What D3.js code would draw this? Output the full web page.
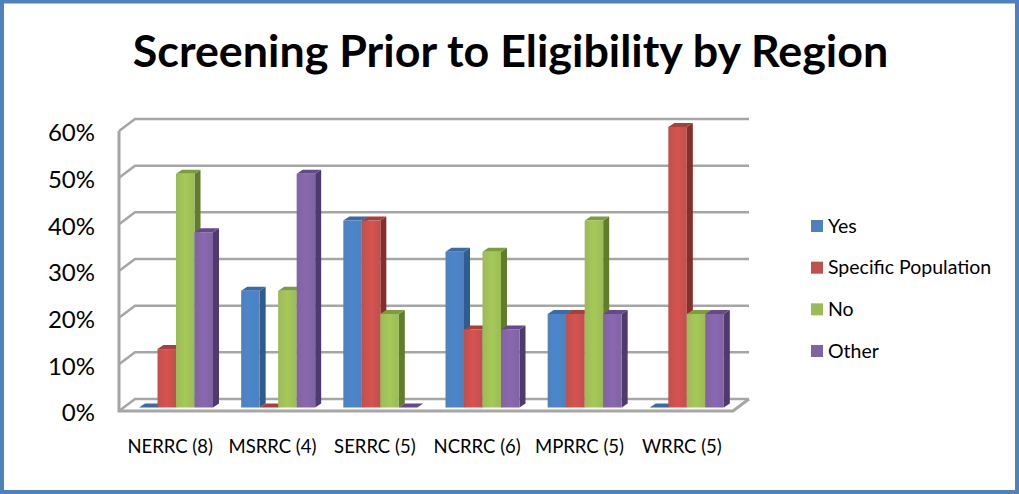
<!DOCTYPE html>
<html>
<head>
<meta charset="utf-8">
<script src="https://cdnjs.cloudflare.com/ajax/libs/d3/7.8.5/d3.min.js"></script>
<style>
html, body { margin: 0; padding: 0; background: #fff; }
svg { display: block; }
text { font-family: Lato, "Open Sans", sans-serif; fill: #000; }
</style>
</head>
<body>
<svg id="canvas" width="1019" height="494"></svg>
<script>
var regions = ['NERRC (8)', 'MSRRC (4)', 'SERRC (5)', 'NCRRC (6)', 'MPRRC (5)', 'WRRC (5)'];
var seriesNames = ['Yes', 'Specific Population', 'No', 'Other'];
var yesValues = [0, 0.25, 0.4, 0.333, 0.2, 0];
var specificValues = [0.125, 0, 0.4, 0.167, 0.2, 0.6];
var noValues = [0.5, 0.25, 0.2, 0.333, 0.4, 0.2];
var otherValues = [0.375, 0.5, 0, 0.167, 0.2, 0.2];
var yTicks = [0, 0.1, 0.2, 0.3, 0.4, 0.5, 0.6];
var seriesValues = [yesValues, specificValues, noValues, otherValues];

var faceColors = ['#4f81bd', '#c0504d', '#9bbb59', '#8064a2'];
var lightColors = ['#4a86cc', '#d65350', '#a6c957', '#8a68b0'];
var sideColors = ['#2f5c8f', '#852f2d', '#617d2c', '#4f3a70'];
var topColors = ['#3a6ba5', '#a83f3c', '#7d9c3c', '#65498a'];

var svg = d3.select('#canvas');
var GRID = '#a6a6a6';
var BAR_DX = 6, BAR_DY = 4;     // depth of one bar
var WALL_DX = 16, WALL_DY = 12; // depth of the floor

// border
svg.append('rect')
    .attr('x', 2).attr('y', 1.5)
    .attr('width', 1015).attr('height', 490.5)
    .attr('fill', '#fff')
    .attr('stroke', '#4f81bd')
    .attr('stroke-width', 4);

svg.append('text')
    .attr('x', 510.5)
    .attr('y', 67)
    .attr('text-anchor', 'middle')
    .attr('font-size', 44.8)
    .attr('font-weight', 700)
    .text('Screening Prior to Eligibility by Region');

var yWall = d3.scaleLinear().domain([0, 0.6]).range([411, 131]);
var yBar = d3.scaleLinear().domain([0, 0.6]).range([407.5, 127]);
var xWall = d3.scaleBand().domain(regions).range([119, 733]);
var xGroup = d3.scaleBand().domain(regions).range([125, 738]);
var xSeries = d3.scaleBand().domain(seriesNames).range([14, 88]);

var line = d3.line();
var wallLeft = xWall.range()[0], wallRight = xWall.range()[1];

// gridlines, each goes back from the wall then across
svg.append('g').selectAll('path')
    .data(yTicks)
    .enter().append('path')
    .attr('fill', 'none')
    .attr('stroke', GRID)
    .attr('stroke-width', 2.5)
    .attr('d', function(t) {
        return line([
            [wallLeft, yWall(t)],
            [wallLeft + WALL_DX, yWall(t) - WALL_DY],
            [wallRight + WALL_DX, yWall(t) - WALL_DY]
        ]);
    });

// wall and floor front
svg.append('path')
    .attr('fill', 'none')
    .attr('stroke', GRID)
    .attr('stroke-width', 3)
    .attr('d', line([
        [wallLeft, yWall(0.6)],
        [wallLeft, yWall(0)],
        [wallRight, yWall(0)],
        [wallRight + WALL_DX, yWall(0) - WALL_DY]
    ]));

// bars
var bars = [];
regions.forEach(function(region, i) {
    seriesNames.forEach(function(name, j) {
        bars.push({ region: region, name: name, series: j, value: seriesValues[j][i] });
    });
});

var defs = svg.append('defs');
faceColors.forEach(function(c, j) {
    var grad = defs.append('linearGradient').attr('id', 'face' + j);
    grad.append('stop').attr('offset', '0%').attr('stop-color', c);
    grad.append('stop').attr('offset', '50%').attr('stop-color', lightColors[j]);
    grad.append('stop').attr('offset', '100%').attr('stop-color', c);
});

var bar = svg.append('g').selectAll('g')
    .data(bars)
    .enter().append('g');

bar.append('path')
    .attr('fill', function(d) { return sideColors[d.series]; })
    .attr('d', function(d) {
        var x = xGroup(d.region) + xSeries(d.name) + xSeries.bandwidth();
        return line([
            [x, yBar(d.value)],
            [x + BAR_DX, yBar(d.value) - BAR_DY],
            [x + BAR_DX, yBar(0) - BAR_DY],
            [x, yBar(0)]
        ]) + 'Z';
    });

bar.append('path')
    .attr('fill', function(d) { return topColors[d.series]; })
    .attr('d', function(d) {
        var x = xGroup(d.region) + xSeries(d.name);
        var w = xSeries.bandwidth();
        return line([
            [x, yBar(d.value)],
            [x + BAR_DX, yBar(d.value) - BAR_DY],
            [x + w + BAR_DX, yBar(d.value) - BAR_DY],
            [x + w, yBar(d.value)]
        ]) + 'Z';
    });

bar.append('rect')
    .attr('x', function(d) { return xGroup(d.region) + xSeries(d.name); })
    .attr('y', function(d) { return yBar(d.value); })
    .attr('width', xSeries.bandwidth())
    .attr('height', function(d) { return yBar(0) - yBar(d.value); })
    .attr('fill', function(d) { return 'url(#face' + d.series + ')'; });

// axes
var yAxis = svg.append('g')
    .attr('transform', 'translate(103,2)')
    .call(d3.axisLeft(yWall).tickValues(yTicks).tickFormat(d3.format('.0%')).tickSize(0).tickPadding(8));
yAxis.select('.domain').remove();
yAxis.selectAll('text')
    .attr('font-size', 24)
    .style('font-family', 'Lato, "Open Sans", sans-serif');

var xAxis = svg.append('g')
    .attr('transform', 'translate(0,436)')
    .call(d3.axisBottom(xWall).tickSize(0).tickPadding(4));
xAxis.select('.domain').remove();
xAxis.selectAll('text')
    .attr('font-size', 18.5)
    .style('font-family', 'Lato, "Open Sans", sans-serif');

// legend
var legendY = d3.scalePoint().domain(seriesNames).range([226, 351]);
var legend = svg.append('g').selectAll('g')
    .data(seriesNames)
    .enter().append('g')
    .attr('transform', function(d) { return 'translate(811,' + legendY(d) + ')'; });
legend.append('rect')
    .attr('y', -6)
    .attr('width', 12)
    .attr('height', 12)
    .attr('fill', function(d, j) { return faceColors[j]; });
legend.append('text')
    .attr('x', 17)
    .attr('dy', '0.35em')
    .attr('font-size', 19.5)
    .text(function(d) { return d; });
</script>
</body>
</html>
